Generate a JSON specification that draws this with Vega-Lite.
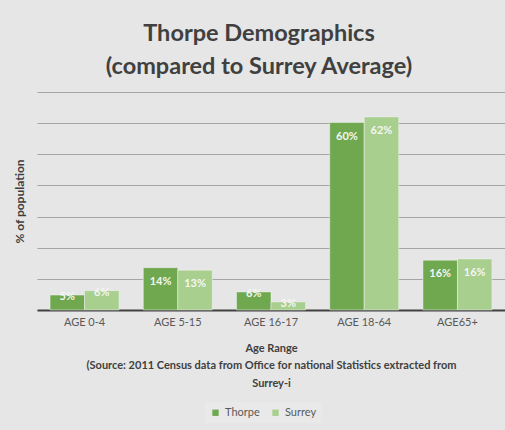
{
  "$schema": "https://vega.github.io/schema/vega-lite/v6.json",
  "autosize": "none",
  "width": 468,
  "height": 218,
  "padding": {"left": 37, "top": 92, "right": 0, "bottom": 120},
  "background": "#e6e6e6",
  "config": {
    "font": "Lato",
    "view": {"stroke": null}
  },
  "title": {
    "text": ["Thorpe Demographics", "(compared to Surrey Average)"],
    "fontSize": 23.5,
    "fontWeight": "bold",
    "color": "#404040",
    "lineHeight": 33,
    "offset": 14,
    "dx": -12,
    "anchor": "middle"
  },
  "data": {
    "values": [
      {"age": "AGE 0-4", "area": "Thorpe", "pct": 4.8, "label": "5%"},
      {"age": "AGE 0-4", "area": "Surrey", "pct": 6.2, "label": "6%"},
      {"age": "AGE 5-15", "area": "Thorpe", "pct": 13.6, "label": "14%"},
      {"age": "AGE 5-15", "area": "Surrey", "pct": 12.8, "label": "13%"},
      {"age": "AGE 16-17", "area": "Thorpe", "pct": 5.8, "label": "6%"},
      {"age": "AGE 16-17", "area": "Surrey", "pct": 2.6, "label": "3%"},
      {"age": "AGE 18-64", "area": "Thorpe", "pct": 60.2, "label": "60%"},
      {"age": "AGE 18-64", "area": "Surrey", "pct": 62.0, "label": "62%"},
      {"age": "AGE65+", "area": "Thorpe", "pct": 16.0, "label": "16%"},
      {"age": "AGE65+", "area": "Surrey", "pct": 16.4, "label": "16%"}
    ]
  },
  "encoding": {
    "x": {
      "field": "age",
      "type": "nominal",
      "sort": null,
      "scale": {"paddingInner": 0.26, "paddingOuter": 0.14},
      "axis": {
        "labelAngle": 0,
        "labelFontSize": 11,
        "labelColor": "#595959",
        "labelPadding": 6,
        "ticks": false,
        "domainColor": "#404040",
        "domainWidth": 2,
        "title": ["Age Range", "(Source: 2011 Census data from Office for national Statistics extracted from", "Surrey-i"],
        "titleFontSize": 11,
        "titleFontWeight": "bold",
        "titleColor": "#404040",
        "titleLineHeight": 17.5,
        "titlePadding": 15
      }
    },
    "xOffset": {"field": "area", "type": "nominal", "sort": ["Thorpe", "Surrey"]},
    "y": {
      "field": "pct",
      "type": "quantitative",
      "scale": {"domain": [0, 70], "nice": false},
      "axis": {
        "values": [0, 10, 20, 30, 40, 50, 60, 70],
        "labels": false,
        "ticks": false,
        "domain": false,
        "gridColor": "#a6a6a6",
        "gridWidth": 1,
        "title": "% of population",
        "titleFontSize": 12,
        "titleFontWeight": "bold",
        "titleColor": "#404040",
        "titlePadding": 11
      }
    }
  },
  "layer": [
    {
      "mark": {"type": "bar", "stroke": "#f2f2f2", "strokeWidth": 0.5},
      "encoding": {
        "color": {
          "field": "area",
          "type": "nominal",
          "sort": ["Thorpe", "Surrey"],
          "scale": {"domain": ["Thorpe", "Surrey"], "range": ["#6fa84f", "#a8cf8d"]},
          "legend": {
            "orient": "none",
            "legendX": 168,
            "legendY": 310,
            "direction": "horizontal",
            "title": null,
            "symbolType": "square",
            "symbolSize": 40,
            "symbolStrokeWidth": 0,
            "labelFontSize": 11,
            "labelColor": "#595959",
            "columnPadding": 10,
            "fillColor": "#e9e9e9",
            "padding": 5
          }
        }
      }
    },
    {
      "mark": {"type": "text", "baseline": "middle", "dy": {"expr": "datum.pct < 8 ? 2 : 14"}, "color": "#f5f5f5", "fontWeight": "bold", "fontSize": 11},
      "encoding": {
        "text": {"field": "label"}
      }
    }
  ]
}
